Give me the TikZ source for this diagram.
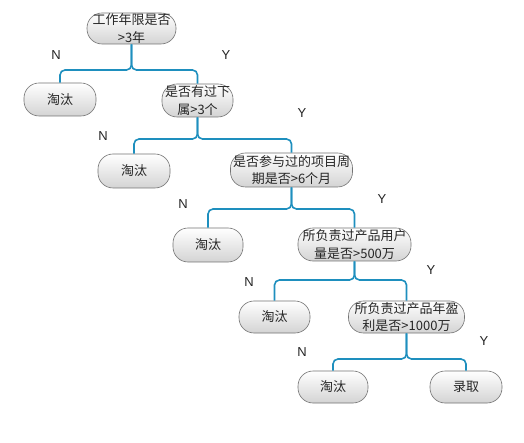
\documentclass[tikz,border=0pt]{standalone}
\usepackage{fontspec}
\setmainfont{Noto Sans CJK SC}
\newfontfamily\lblfont{Liberation Sans}
\definecolor{connblue}{RGB}{30,143,190}
\begin{document}
\begin{tikzpicture}[x=1pt,y=-1pt,
  box/.style={draw=black!55, line width=0.6pt, rectangle, rounded corners=15pt,
    top color=white, bottom color=black!17, inner sep=0pt, align=center,
    font=\fontsize{13}{17.5}\selectfont, text=black!85},
  conn/.style={draw=connblue, line width=1.6pt, rounded corners=5pt},
  yn/.style={font=\lblfont\fontsize{13}{15}\selectfont, text=black!85}]
\useasboundingbox (0,0) rectangle (524,443);
\fill[white] (0,0) rectangle (524,443);
% nodes
\node[box, minimum width=89pt, minimum height=31pt] (n1) at (131.5,28.5) {工作年限是否\\>3年};
\node[box, minimum width=72pt, minimum height=33pt] (t1) at (60,99.5) {淘汰};
\node[box, minimum width=71pt, minimum height=33pt] (n2) at (197.5,100.5) {是否有过下\\属>3个};
\node[box, minimum width=72pt, minimum height=34pt] (t2) at (134,171) {淘汰};
\node[box, minimum width=122pt, minimum height=34pt] (n3) at (291.5,170) {是否参与过的项目周\\期是否>6个月};
\node[box, minimum width=70pt, minimum height=34pt] (t3) at (208,245) {淘汰};
\node[box, minimum width=113pt, minimum height=33pt] (n4) at (354.5,244.5) {所负责过产品用户\\量是否>500万};
\node[box, minimum width=71pt, minimum height=32pt] (t4) at (274.5,317) {淘汰};
\node[box, minimum width=116pt, minimum height=32pt] (n5) at (406.5,317) {所负责过产品年盈\\利是否>1000万};
\node[box, minimum width=70pt, minimum height=32pt] (t5) at (333,387) {淘汰};
\node[box, minimum width=72pt, minimum height=32pt] (r) at (466,387) {录取};
% bar points
\coordinate (b1) at (131.5,70);
\coordinate (b2) at (197.5,139);
\coordinate (b3) at (291.5,209);
\coordinate (b4) at (354.5,280);
\coordinate (b5) at (406.5,359);
% connectors
\draw[conn] (n1.south) -- (b1) -| (t1.north);
\draw[conn] (n1.south) -- (b1) -| (n2.north);
\draw[conn] (n2.south) -- (b2) -| (t2.north);
\draw[conn] (n2.south) -- (b2) -| (n3.north);
\draw[conn] (n3.south) -- (b3) -| (t3.north);
\draw[conn] (n3.south) -- (b3) -| (n4.north);
\draw[conn] (n4.south) -- (b4) -| (t4.north);
\draw[conn] (n4.south) -- (b4) -| (n5.north);
\draw[conn] (n5.south) -- (b5) -| (t5.north);
\draw[conn] (n5.south) -- (b5) -| (r.north);
% labels
\node[yn] (l1n) at (56,55) {N};
\node[yn] (l1y) at (226,55) {Y};
\node[yn] (l2n) at (103,136) {N};
\node[yn] (l2y) at (302,113) {Y};
\node[yn] (l3n) at (183,204) {N};
\node[yn] (l3y) at (382,199) {Y};
\node[yn] (l4n) at (249,282) {N};
\node[yn] (l4y) at (431,270) {Y};
\node[yn] (l5n) at (302,352) {N};
\node[yn] (l5y) at (484,341) {Y};
\end{tikzpicture}
\end{document}
